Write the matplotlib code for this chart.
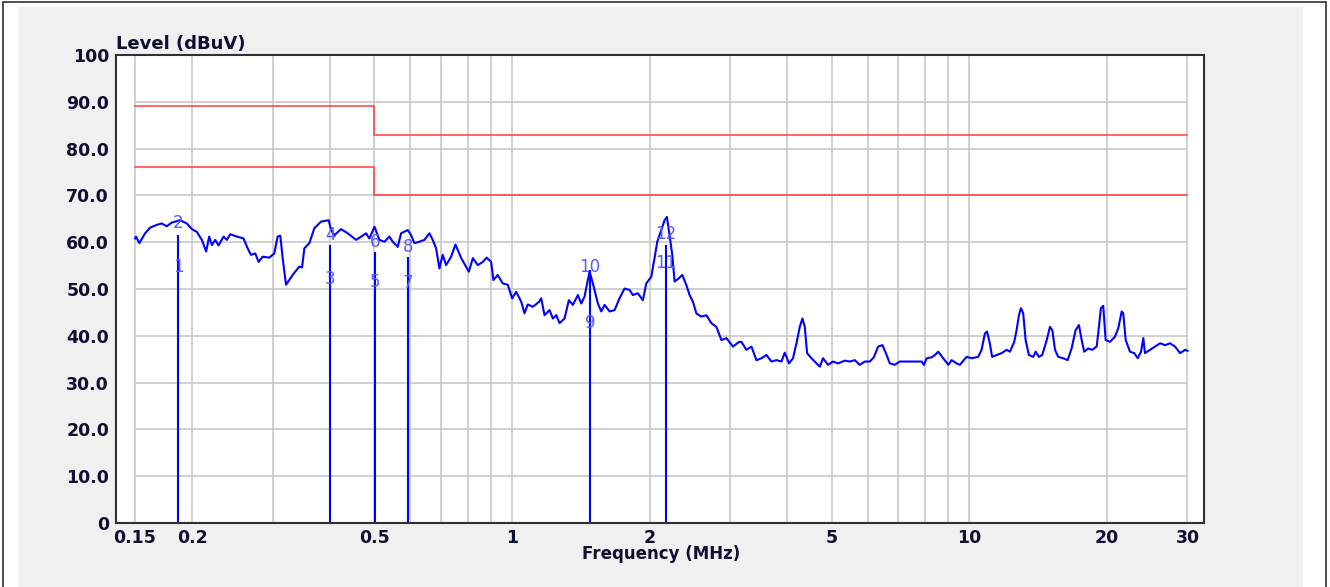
import matplotlib
matplotlib.use("Agg")
import matplotlib.pyplot as plt
from matplotlib.patches import Rectangle
from matplotlib.ticker import FixedLocator, NullLocator

# Colours
TRACE_COLOR = "#0000FF"
LIMIT_COLOR = "#FF3C3C"
MARK_TEXT_COLOR = "#5A5AFF"
GRID_COLOR = "#C8C8C8"
PANEL_COLOR = "#F0F0F0"
TEXT_COLOR = "#101030"
FRAME_COLOR = "#303030"

# the reference text is wide, DejaVu is the closest match
FONT = "DejaVu Sans"

# Measured spectrum (MHz / dBuV)
FREQ_MHZ = [
    0.150, 0.1508, 0.1533, 0.1578, 0.1618, 0.1673, 0.1716, 0.1760, 0.1805, 0.1882,
    0.1947, 0.1997, 0.2048, 0.2100, 0.2146, 0.2179, 0.2209, 0.2246, 0.2284, 0.2342,
    0.2382, 0.2422, 0.2505, 0.2590, 0.2644, 0.2689, 0.2748, 0.2794, 0.2851, 0.2949,
    0.3024, 0.3075, 0.3117, 0.3154, 0.3208, 0.3317, 0.3430, 0.3478, 0.3518, 0.3608,
    0.3700, 0.3827, 0.3976, 0.4024, 0.4092, 0.4232, 0.4376, 0.4565, 0.4719, 0.4800,
    0.4880, 0.5008, 0.5133, 0.5264, 0.5398, 0.5489, 0.5629, 0.5725, 0.5919, 0.6021,
    0.6122, 0.6278, 0.6438, 0.6603, 0.6713, 0.6829, 0.6944, 0.7060, 0.7182, 0.7365,
    0.7527, 0.7750, 0.8052, 0.8217, 0.8426, 0.8636, 0.8811, 0.9009, 0.9114, 0.9314,
    0.9551, 0.9795, 1.0015, 1.0219, 1.048, 1.0656, 1.0835, 1.1111, 1.1452, 1.1592,
    1.1786, 1.2087, 1.229, 1.2502, 1.2712, 1.3037, 1.3322, 1.3593, 1.394, 1.418,
    1.442, 1.4588, 1.4787, 1.5035, 1.5419, 1.5686, 1.5949, 1.6356, 1.6774, 1.719,
    1.763, 1.808, 1.839, 1.885, 1.934, 1.967, 2.017, 2.051, 2.079, 2.122,
    2.157, 2.182, 2.212, 2.242, 2.269, 2.318, 2.358, 2.406, 2.447, 2.488,
    2.531, 2.595, 2.662, 2.730, 2.800, 2.871, 2.945, 3.044, 3.138, 3.176,
    3.257, 3.340, 3.425, 3.513, 3.602, 3.694, 3.789, 3.885, 3.950, 4.036,
    4.118, 4.190, 4.260, 4.318, 4.369, 4.420, 4.519, 4.634, 4.712, 4.790,
    4.912, 5.038, 5.167, 5.344, 5.480, 5.620, 5.763, 5.910, 6.061, 6.184,
    6.320, 6.461, 6.570, 6.703, 6.874, 7.049, 7.230, 7.414, 7.672, 7.868,
    7.960, 8.069, 8.275, 8.414, 8.554, 8.771, 9.000, 9.151, 9.384, 9.537,
    9.865, 10.12, 10.46, 10.64, 10.82, 10.94, 11.09, 11.22, 11.48, 11.77,
    12.07, 12.27, 12.54, 12.69, 12.84, 12.97, 13.12, 13.28, 13.50, 13.80,
    13.97, 14.20, 14.44, 14.77, 15.01, 15.19, 15.40, 15.65, 16.05, 16.41,
    16.74, 17.08, 17.37, 17.61, 17.84, 18.20, 18.57, 18.99, 19.21, 19.40,
    19.63, 19.87, 20.30, 20.82, 21.17, 21.54, 21.71, 21.98, 22.46, 22.95,
    23.35, 23.74, 24.02, 24.22, 24.85, 25.48, 26.13, 26.80, 27.48, 28.18,
    28.90, 29.64, 30.0,
]
LEVEL_DBUV = [
    60.8, 61.2, 59.8, 61.9, 63.1, 63.7, 64.0, 63.4, 64.2, 64.7,
    64.0, 62.8, 62.2, 60.5, 58.0, 61.2, 59.4, 60.5, 59.3, 61.2,
    60.5, 61.7, 61.2, 60.8, 58.7, 57.3, 57.6, 55.8, 56.9, 56.7,
    57.6, 61.2, 61.4, 56.6, 50.9, 53.0, 54.8, 54.6, 58.7, 59.8,
    63.0, 64.4, 64.7, 62.6, 61.5, 62.8, 61.9, 60.5, 61.4, 61.9,
    60.8, 63.3, 60.5, 60.1, 61.2, 60.1, 59.0, 61.9, 62.6, 61.5,
    59.8, 60.1, 60.5, 61.9, 60.5, 58.7, 54.4, 57.3, 55.1, 56.9,
    59.5, 56.6, 53.7, 56.6, 55.1, 55.8, 56.7, 55.8, 51.9, 53.0,
    51.2, 50.9, 48.0, 49.4, 47.3, 44.8, 46.7, 46.2, 47.2, 48.0,
    44.4, 45.5, 43.7, 44.4, 42.7, 43.7, 47.6, 46.6, 48.7, 46.9,
    48.4, 50.9, 53.7, 51.2, 46.9, 45.2, 46.6, 45.2, 45.5, 48.0,
    50.1, 49.8, 48.7, 49.1, 47.6, 51.2, 52.6, 56.6, 60.1, 62.6,
    64.7, 65.4, 61.5, 57.3, 51.6, 52.3, 53.0, 50.9, 48.7, 47.3,
    44.8, 44.1, 44.4, 42.7, 41.9, 39.1, 39.5, 37.7, 38.7, 38.7,
    37.0, 37.7, 34.8, 35.2, 35.9, 34.5, 34.8, 34.5, 36.4, 34.1,
    35.2, 38.4, 41.9, 43.7, 41.9, 36.3, 35.2, 34.1, 33.4, 35.2,
    33.8, 34.5, 34.1, 34.7, 34.5, 34.8, 33.8, 34.5, 34.5, 35.4,
    37.7, 38.0, 36.3, 34.1, 33.8, 34.5, 34.5, 34.5, 34.5, 34.5,
    33.8, 35.2, 35.4, 35.9, 36.6, 35.2, 33.8, 34.8, 34.1, 33.8,
    35.5, 35.2, 35.5, 37.0, 40.5, 40.9, 38.4, 35.5, 35.9, 36.3,
    37.0, 36.6, 38.7, 41.2, 44.4, 45.9, 44.8, 39.1, 35.9, 35.5,
    36.6, 35.5, 35.9, 39.1, 41.9, 41.2, 37.0, 35.5, 35.2, 34.8,
    37.3, 41.2, 42.3, 39.1, 36.6, 37.3, 37.0, 37.7, 41.9, 45.9,
    46.4, 39.1, 38.7, 39.8, 41.6, 45.2, 44.8, 39.1, 36.6, 36.3,
    35.2, 36.6, 39.5, 36.3, 37.0, 37.7, 38.4, 38.0, 38.4, 37.7,
    36.3, 37.0, 36.8,
]

# Limit lines (QP and AV)
LIMIT_FREQS = [0.15, 0.5, 0.5, 30]
QP_LIMIT = [89, 89, 83, 83]
AV_LIMIT = [76, 76, 70, 70]

# Markers: frequency, line height, label levels
MARKER_FREQS = [0.1866, 0.401, 0.5013, 0.5919, 1.481, 2.168]
MARKER_TOPS = [61.5, 59.4, 58.0, 56.9, 54.0, 59.4]
AV_LABELS = ["1", "3", "5", "7", "9", "11"]
AV_LEVELS = [54.8, 52.1, 51.6, 51.2, 42.7, 55.5]
QP_LABELS = ["2", "4", "6", "8", "10", "12"]
QP_LEVELS = [64.0, 61.5, 60.1, 59.0, 54.8, 61.7]

X_TICKS = [0.15, 0.2, 0.5, 1, 2, 5, 10, 20, 30]
X_TICK_LABELS = ["0.15", "0.2", "0.5", "1", "2", "5", "10", "20", "30"]
X_GRID = [0.15, 0.2, 0.3, 0.4, 0.5, 0.6, 0.7, 0.8, 0.9, 1,
          2, 3, 4, 5, 6, 7, 8, 9, 10, 20, 30]
Y_TICKS = [0, 10, 20, 30, 40, 50, 60, 70, 80, 90, 100]
Y_TICK_LABELS = ["0", "10.0", "20.0", "30.0", "40.0", "50.0", "60.0",
                 "70.0", "80.0", "90.0", "100"]

W, H = 1330, 587

plt.rcParams["font.family"] = [FONT]

fig = plt.figure(figsize=(W / 100, H / 100), dpi=100)
fig.patch.set_facecolor("white")

# outer frame and grey panel, kept behind the axes
fig.patches.append(Rectangle((3 / W, -0.1), 1323 / W, 1.1 - 1.5 / H, transform=fig.transFigure,
                             facecolor="white", edgecolor=FRAME_COLOR, linewidth=1.2, zorder=-3))
fig.patches.append(Rectangle((18 / W, 0), 1285 / W, 1 - 7 / H, transform=fig.transFigure,
                             facecolor=PANEL_COLOR, edgecolor="none", zorder=-2))

ax = fig.add_axes([116 / W, 64 / H, 1088 / W, 468 / H])
ax.set_zorder(1)
ax.set_facecolor("white")
ax.set_xscale("log")
ax.set_xlim(0.1363, 32.6)
ax.set_ylim(0, 100)

# grid limited to the scan range
ax.vlines(X_GRID, 0, 100, color=GRID_COLOR, linewidth=1.2, zorder=1)
ax.hlines(Y_TICKS[1:-1], 0.15, 30, color=GRID_COLOR, linewidth=1.2, zorder=1)

ax.plot(LIMIT_FREQS, QP_LIMIT, color=LIMIT_COLOR, linewidth=1.1, zorder=2)
ax.plot(LIMIT_FREQS, AV_LIMIT, color=LIMIT_COLOR, linewidth=1.1, zorder=2)

ax.plot(FREQ_MHZ, LEVEL_DBUV, color=TRACE_COLOR, linewidth=1.5, zorder=3)

ax.vlines(MARKER_FREQS, 0, MARKER_TOPS, color=TRACE_COLOR, linewidth=1.5, zorder=3)
for f, lvl, txt in zip(MARKER_FREQS, AV_LEVELS, AV_LABELS):
    ax.text(f, lvl, txt, ha="center", va="center", fontsize=12, color=MARK_TEXT_COLOR, zorder=4)
for f, lvl, txt in zip(MARKER_FREQS, QP_LEVELS, QP_LABELS):
    ax.text(f, lvl, txt, ha="center", va="center", fontsize=12, color=MARK_TEXT_COLOR, zorder=4)

ax.xaxis.set_major_locator(FixedLocator(X_TICKS))
ax.xaxis.set_minor_locator(NullLocator())
ax.set_xticklabels(X_TICK_LABELS)
ax.set_yticks(Y_TICKS)
ax.set_yticklabels(Y_TICK_LABELS)
ax.tick_params(axis="both", length=0, labelsize=12.5, labelcolor=TEXT_COLOR)
ax.tick_params(axis="x", pad=4)
ax.tick_params(axis="y", pad=5)
for lab in ax.get_xticklabels() + ax.get_yticklabels():
    lab.set_fontweight("bold")

for side in ["left", "bottom", "top", "right"]:
    ax.spines[side].set_color(FRAME_COLOR)
    ax.spines[side].set_linewidth(1.5)
    ax.spines[side].set_zorder(5)

fig.text(116 / W, 1 - 44 / H, "Level (dBuV)", ha="left", va="center",
         fontsize=13, fontweight="bold", color=TEXT_COLOR)
fig.text(661 / W, 1 - 559 / H, "Frequency (MHz)", ha="center", va="baseline",
         fontsize=12, fontweight="bold", color=TEXT_COLOR)

fig.savefig("out.png", dpi=100, facecolor="white")
plt.close(fig)
